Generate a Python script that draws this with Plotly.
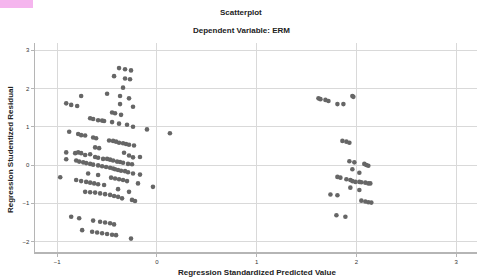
import plotly.graph_objects as go

# Left cluster (predicted value, studentized residual)
pred_left = [-0.38,-0.32,-0.26,-0.43,-0.32,-0.27,-0.34,
             -0.76,-0.50,-0.37,-0.28,
             -0.91,-0.86,-0.80,-0.37,-0.24,
             -0.45,-0.42,-0.36,
             -0.67,-0.64,-0.59,-0.55,-0.53,-0.45,-0.38,-0.30,-0.24,
             -0.10,0.13,
             -0.88,-0.79,-0.76,-0.72,-0.64,-0.61,
             -0.48,-0.44,-0.41,-0.38,-0.34,-0.31,-0.28,-0.23,
             -0.62,-0.58,
             -0.91,-0.91,-0.97,
             -0.82,-0.79,-0.76,-0.72,-0.67,
             -0.62,-0.59,-0.54,-0.50,-0.47,-0.44,-0.40,-0.37,-0.34,-0.29,-0.25,
             -0.33,-0.28,-0.17,-0.24,
             -0.81,-0.78,-0.74,-0.71,-0.67,-0.64,-0.59,-0.55,-0.51,-0.47,-0.44,
             -0.42,-0.39,-0.36,-0.32,-0.29,-0.24,-0.17,
             -0.69,-0.59,
             -0.46,-0.42,-0.38,-0.34,-0.30,
             -0.81,-0.76,-0.71,-0.67,-0.63,-0.59,-0.53,
             -0.19,-0.04,-0.39,-0.28,
             -0.72,-0.67,-0.62,-0.57,-0.52,-0.47,-0.43,-0.39,-0.35,
             -0.25,-0.22,
             -0.86,-0.78,-0.64,-0.57,-0.52,-0.47,-0.43,
             -0.75,-0.65,-0.60,-0.55,-0.50,-0.45,-0.41,
             -0.26]
resid_left = [2.53,2.50,2.47,2.32,2.26,2.24,2.02,
              1.80,1.86,1.80,1.74,
              1.61,1.57,1.54,1.59,1.52,
              1.37,1.35,1.31,
              1.22,1.20,1.17,1.16,1.15,1.12,1.08,1.05,1.00,
              0.93,0.83,
              0.87,0.81,0.78,0.77,0.72,0.70,
              0.64,0.63,0.61,0.58,0.57,0.55,0.53,0.51,
              0.46,0.44,
              0.33,0.15,-0.32,
              0.31,0.33,0.31,0.26,0.28,
              0.21,0.19,0.16,0.16,0.14,0.12,0.09,0.08,0.06,0.03,0.02,
              0.32,0.25,0.21,0.20,
              0.12,0.09,0.07,0.05,0.03,0.01,-0.01,-0.03,-0.05,-0.07,-0.09,
              -0.11,-0.13,-0.15,-0.16,-0.19,-0.22,-0.25,
              -0.22,-0.26,
              -0.33,-0.35,-0.37,-0.39,-0.42,
              -0.39,-0.42,-0.44,-0.46,-0.48,-0.50,-0.52,
              -0.48,-0.57,-0.63,-0.70,
              -0.70,-0.71,-0.72,-0.74,-0.76,-0.78,-0.81,-0.83,-0.87,
              -0.91,-0.94,
              -1.35,-1.39,-1.45,-1.48,-1.50,-1.52,-1.55,
              -1.70,-1.74,-1.76,-1.78,-1.80,-1.82,-1.83,
              -1.92]

# Right cluster
pred_right = [1.62,1.64,1.69,1.72,1.81,1.87,1.96,1.97,
              1.86,1.90,1.93,
              1.93,1.98,1.96,2.03,
              2.08,2.10,2.12,
              1.81,1.84,
              1.90,1.94,1.96,1.99,2.03,2.05,2.09,2.12,2.14,
              1.94,2.03,1.74,1.81,
              2.05,2.09,2.12,2.15,
              1.80,1.89]
resid_right = [1.74,1.72,1.70,1.67,1.59,1.59,1.80,1.78,
               0.63,0.61,0.58,
               0.10,0.07,-0.11,-0.20,
               0.03,0.00,-0.02,
               -0.31,-0.33,
               -0.37,-0.39,-0.42,-0.44,-0.44,-0.45,-0.46,-0.48,-0.48,
               -0.59,-0.65,-0.77,-0.79,
               -0.93,-0.95,-0.97,-0.98,
               -1.31,-1.35]

x_ticks = [-1, 0, 1, 2, 3]
y_ticks = [-2, -1, 0, 1, 2, 3]

fig = go.Figure()
fig.add_trace(go.Scatter(
    x=pred_left + pred_right,
    y=resid_left + resid_right,
    mode="markers",
    marker=dict(size=4.6, color="#666666", line=dict(width=0)),
    showlegend=False,
    hoverinfo="skip",
))

font_family = "Liberation Sans, Arial, sans-serif"
fig.update_layout(
    width=477, height=280,
    margin=dict(l=35, r=0, t=43, b=28),
    paper_bgcolor="white", plot_bgcolor="white",
    font=dict(family=font_family, color="#222"),
    hovermode=False,
    xaxis=dict(range=[-1.223, 3.21], tickvals=x_ticks, showgrid=True,
               gridcolor="#d9d9d9", gridwidth=1, zeroline=False,
               showline=True, linecolor="#b5b5b5", linewidth=1.5,
               ticks="outside", ticklen=3, tickcolor="#b5b5b5",
               tickfont=dict(size=6, color="#333")),
    yaxis=dict(range=[-2.27, 3.185], tickvals=y_ticks, showgrid=True,
               gridcolor="#d9d9d9", gridwidth=1, zeroline=False,
               showline=True, linecolor="#b5b5b5", linewidth=1.5,
               ticks="outside", ticklen=3, tickcolor="#b5b5b5",
               tickfont=dict(size=6, color="#333")),
    shapes=[dict(type="rect", xref="paper", yref="paper",
                 x0=-35/442, x1=-2/442, y0=(280-28-8)/209, y1=(280-28)/209,
                 fillcolor="#f5b5ee", line=dict(width=0), layer="above")],
    annotations=[
        dict(text="<b>Scatterplot</b>", xref="paper", yref="paper",
             x=(241-35)/442, y=(252-12)/209, showarrow=False,
             font=dict(size=8, color="#222"), xanchor="center", yanchor="middle"),
        dict(text="<b>Dependent Variable: ERM</b>", xref="paper", yref="paper",
             x=(241-35)/442, y=(252-30)/209, showarrow=False,
             font=dict(size=8, color="#222"), xanchor="center", yanchor="middle"),
        dict(text="<b>Regression Standardized Predicted Value</b>", xref="paper", yref="paper",
             x=(257-35)/442, y=(252-272)/209, showarrow=False,
             font=dict(size=8, color="#222"), xanchor="center", yanchor="middle"),
        dict(text="<b>Regression Studentized Residual</b>", xref="paper", yref="paper",
             x=(10-35)/442, y=(252-150)/209, showarrow=False, textangle=-90,
             font=dict(size=8, color="#222"), xanchor="center", yanchor="middle"),
    ],
)

fig.write_html("out.html",
               config={"displayModeBar": False, "staticPlot": True},
               post_script="document.body.style.margin='0';document.body.style.overflow='hidden';")
